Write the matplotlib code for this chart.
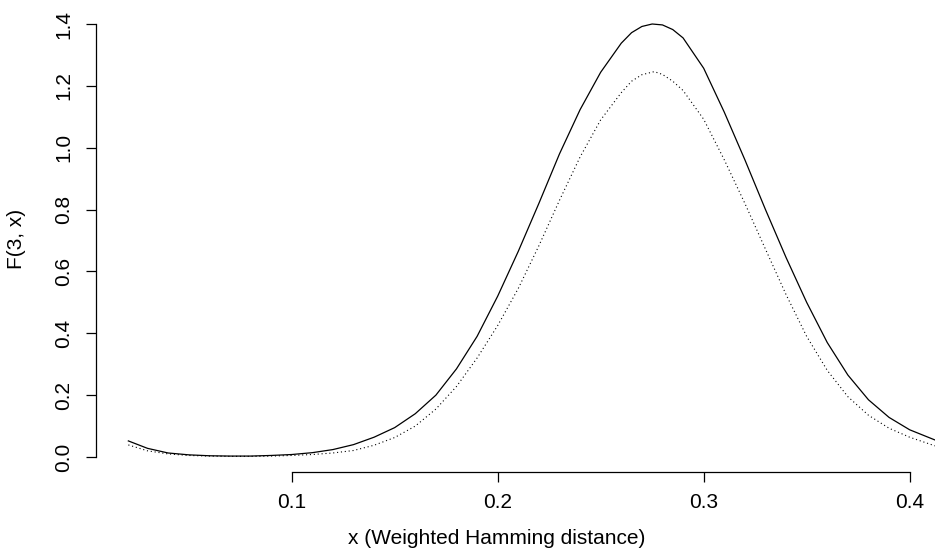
import numpy as np
import matplotlib.pyplot as plt

plt.rcParams['font.family'] = ['Liberation Sans', 'DejaVu Sans']

# values
x_solid = [0.0207, 0.03, 0.04, 0.05, 0.06, 0.07, 0.08, 0.09, 0.10, 0.11, 0.12,
           0.13, 0.14, 0.15, 0.16, 0.17, 0.18, 0.19, 0.20, 0.21, 0.22, 0.23,
           0.24, 0.25, 0.26, 0.265, 0.27, 0.275, 0.28, 0.285, 0.29, 0.30, 0.31,
           0.32, 0.33, 0.34, 0.35, 0.36, 0.37, 0.38, 0.39, 0.40, 0.4123]
f_solid = [0.052, 0.028, 0.013, 0.007, 0.004, 0.003, 0.003, 0.005, 0.008, 0.014, 0.024,
           0.040, 0.064, 0.095, 0.140, 0.200, 0.285, 0.390, 0.520, 0.665, 0.820, 0.980,
           1.123, 1.244, 1.338, 1.372, 1.392, 1.400, 1.397, 1.382, 1.355, 1.257, 1.115,
           0.961, 0.800, 0.645, 0.500, 0.370, 0.265, 0.185, 0.128, 0.088, 0.055]

x_dot = [0.0207, 0.03, 0.04, 0.05, 0.06, 0.07, 0.08, 0.09, 0.10, 0.11, 0.12,
         0.13, 0.14, 0.15, 0.16, 0.17, 0.18, 0.19, 0.20, 0.21, 0.22, 0.23,
         0.24, 0.25, 0.26, 0.265, 0.27, 0.276, 0.28, 0.285, 0.29, 0.30, 0.31,
         0.32, 0.33, 0.34, 0.35, 0.36, 0.37, 0.38, 0.39, 0.40, 0.4123]
f_dot = [0.039, 0.020, 0.010, 0.005, 0.003, 0.002, 0.002, 0.003, 0.005, 0.008, 0.013,
         0.021, 0.038, 0.063, 0.100, 0.155, 0.228, 0.320, 0.425, 0.545, 0.683, 0.830,
         0.970, 1.090, 1.178, 1.215, 1.236, 1.246, 1.237, 1.215, 1.185, 1.092, 0.961,
         0.820, 0.672, 0.525, 0.390, 0.280, 0.195, 0.135, 0.093, 0.064, 0.036]

xticks = [0.1, 0.2, 0.3, 0.4]
yticks = [0.0, 0.2, 0.4, 0.6, 0.8, 1.0, 1.2, 1.4]

fig = plt.figure(figsize=(9.35, 5.58), dpi=100)
ax = fig.add_axes([96 / 935, 86 / 558, 839 / 935, 472 / 558])

ax.plot(x_solid, f_solid, color='black', lw=0.9)
ax.plot(x_dot, f_dot, color='black', lw=0.8, linestyle=(0, (1, 2.5)))

ax.set_xlim(0.005, 0.4123)
ax.set_ylim(-0.0485, 1.4776)

ax.spines['top'].set_visible(False)
ax.spines['right'].set_visible(False)
ax.spines['left'].set_bounds(0.0, 1.4)
ax.spines['bottom'].set_bounds(0.1, 0.4)
ax.spines['bottom'].set_linewidth(0.9)
ax.spines['left'].set_linewidth(0.9)

ax.set_xticks(xticks)
ax.set_xticklabels(['%.1f' % v for v in xticks])
ax.set_yticks(yticks)
ax.set_yticklabels(['%.1f' % v for v in yticks], rotation=90, va='center')
ax.tick_params(direction='out', length=7.2, width=0.9, labelsize=15, pad=8)
ax.tick_params(axis='y', pad=9)

fig.text(497 / 935, 1 - 539 / 558, 'x (Weighted Hamming distance)',
         ha='center', va='center', fontsize=15)
fig.text(17 / 935, 1 - 239 / 558, 'F(3, x)', rotation=90,
         ha='center', va='center', fontsize=15)

fig.savefig('out.png', dpi=100)
